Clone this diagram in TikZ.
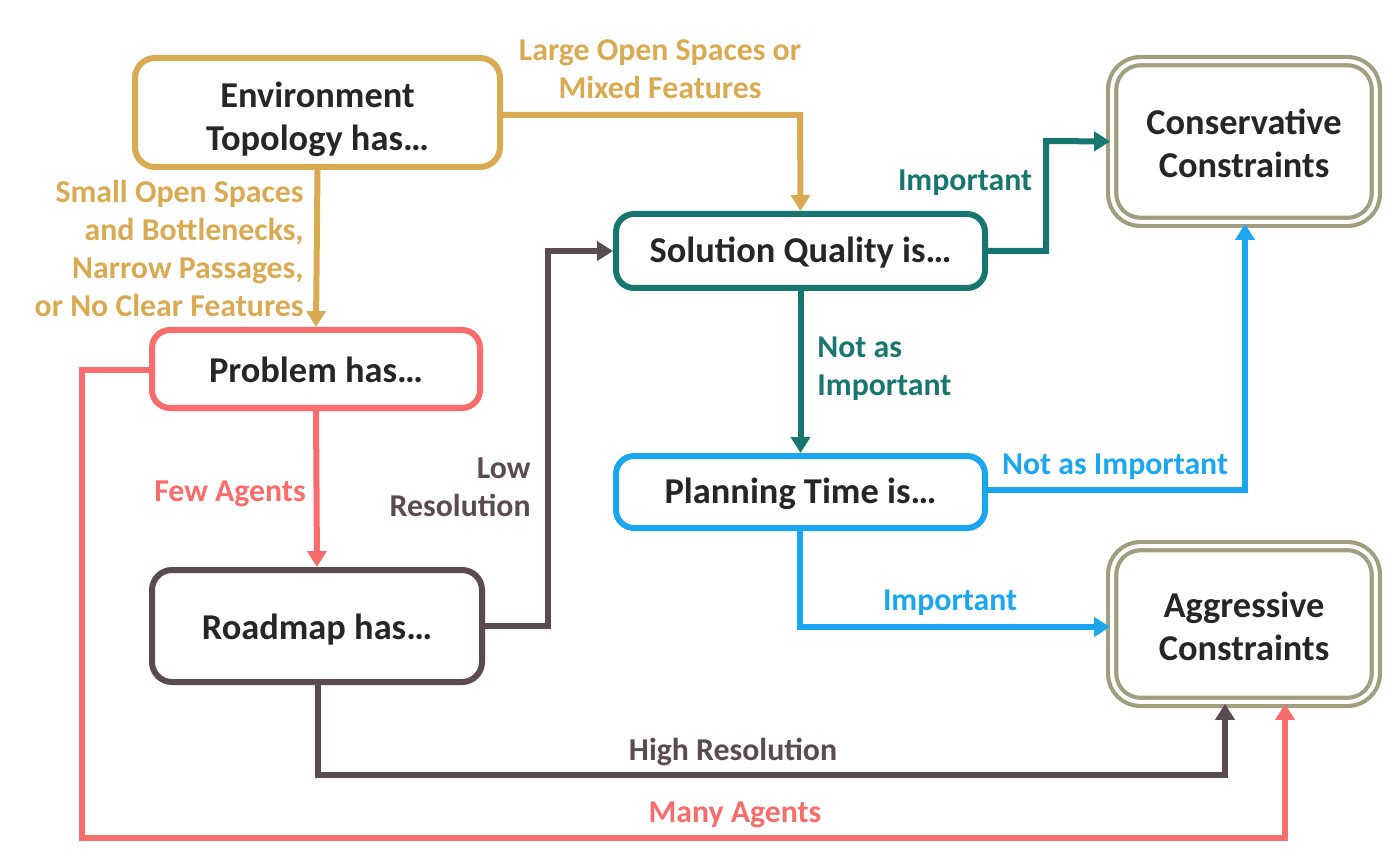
\documentclass[tikz,border=0pt]{standalone}
\usepackage{fontspec}
\setmainfont{Carlito}
\usetikzlibrary{arrows.meta,positioning}
\definecolor{cgold}{HTML}{D9AA52}
\definecolor{csalmon}{HTML}{F86C6B}
\definecolor{cdark}{HTML}{5A4A52}
\definecolor{cteal}{HTML}{17766F}
\definecolor{cblue}{HTML}{1BA7F0}
\definecolor{colive}{HTML}{A0A080}
\definecolor{ctext}{HTML}{262626}
\tikzset{
  box/.style={draw, line width=3pt, rounded corners=10pt, fill=white, text=ctext,
    font=\bfseries\fontsize{18.2}{21.5}\selectfont, align=center, inner sep=0pt},
  dbox/.style={draw=colive, line width=2.1pt, double=white, double distance=2pt,
    rounded corners=14pt, fill=white, text=ctext,
    font=\bfseries\fontsize{18.2}{21.5}\selectfont, align=center, inner sep=0pt},
  conn/.style={line width=3pt, -{Triangle[width=9.5pt,length=8pt]}},
  lbl/.style={font=\bfseries\fontsize{15.9}{19}\selectfont, inner sep=0pt}
}
\newcommand{\lowered}[2]{\raisebox{-#1}[\height][\depth]{\begin{tabular}{@{}c@{}}#2\end{tabular}}}
\newcommand{\lowone}[2]{\raisebox{-#1}[\height][\depth]{#2}}
\begin{document}
\begin{tikzpicture}[x=0.5pt,y=-0.5pt]
\useasboundingbox (0,0) rectangle (1400,865);
% nodes
\node[box, draw=cgold, minimum width=182.5pt, minimum height=54.5pt] (env) at (317.5,112.5) {\lowered{4pt}{Environment\\Topology has\ldots}};
\node[box, draw=csalmon, minimum width=164pt, minimum height=39pt, rounded corners=9pt] (prob) at (316,369) {\lowone{0.5pt}{Problem has\ldots}};
\node[box, draw=cdark, minimum width=165pt, minimum height=56pt] (road) at (317,626) {\lowone{2pt}{Roadmap has\ldots}};
\node[box, draw=cteal, minimum width=184.5pt, minimum height=37pt, rounded corners=9pt] (sol) at (800.5,251) {\lowone{1pt}{Solution Quality is\ldots}};
\node[box, draw=cblue, minimum width=184.5pt, minimum height=36pt, rounded corners=9pt] (plan) at (800.5,492) {\lowone{1pt}{Planning Time is\ldots}};
\node[dbox, minimum width=131.8pt, minimum height=80.3pt] (cons) at (1244,141.5) {\lowered{3pt}{Conservative\\Constraints}};
\node[dbox, minimum width=131.8pt, minimum height=77.8pt] (aggr) at (1244,624) {\lowered{3pt}{Aggressive\\Constraints}};
% coordinates
\coordinate (c1) at (800,115);
\coordinate (c2) at (548,626);
\coordinate (c3) at (548,251);
\coordinate (c4) at (1046,251);
\coordinate (c5) at (1046,141);
\coordinate (c6) at (1245,490);
\coordinate (c7) at (800,627);
\coordinate (c8) at (318,775);
\coordinate (c9) at (1225,775);
\coordinate (c10) at (82,370);
\coordinate (c11) at (82,838);
\coordinate (c12) at (1285,838);
% connectors
\draw[conn, cgold] (env.east |- c1) -- (c1) -- (sol.north);
\draw[conn, cgold] (env.south) -- (prob.north);
\draw[conn, csalmon] (prob.south) -- (road.north);
\draw[conn, csalmon] (prob.west |- c10) -- (c10) -- (c11) -- (c12) -- (aggr.south -| c12);
\draw[conn, cdark] (road.east |- c2) -- (c2) -- (c3) -- (sol.west);
\draw[conn, cdark] (road.south -| c8) -- (c8) -- (c9) -- (aggr.south -| c9);
\draw[conn, cteal] (sol.east) -- (c4) -- (c5) -- (cons.west);
\draw[conn, cteal] (sol.south) -- (plan.north);
\draw[conn, cblue] (plan.east |- c6) -- (c6) -- (cons.south -| c6);
\draw[conn, cblue] (plan.south -| c7) -- (c7) -- (aggr.west |- c7);
% labels
\node[lbl, text=cgold, align=center] (l1) at (660,69) {Large Open Spaces or\\Mixed Features};
\node[lbl, text=cgold, align=right, anchor=east] (l2) at (304,248) {Small Open Spaces\\and Bottlenecks,\\Narrow Passages,\\or No Clear Features};
\node[lbl, text=csalmon] (l3) at (230,494) {Few Agents};
\node[lbl, text=cdark, align=right, anchor=east] (l4) at (531,487) {Low\\Resolution};
\node[lbl, text=cdark] (l5) at (733,752) {High Resolution};
\node[lbl, text=csalmon] (l6) at (735,815) {Many Agents};
\node[lbl, text=cteal] (l7) at (965,183) {Important};
\node[lbl, text=cteal, align=left, anchor=west] (l8) at (817,369) {Not as\\Important};
\node[lbl, text=cblue] (l9) at (1115,467) {Not as Important};
\node[lbl, text=cblue] (l10) at (950,603) {Important};
\end{tikzpicture}
\end{document}
